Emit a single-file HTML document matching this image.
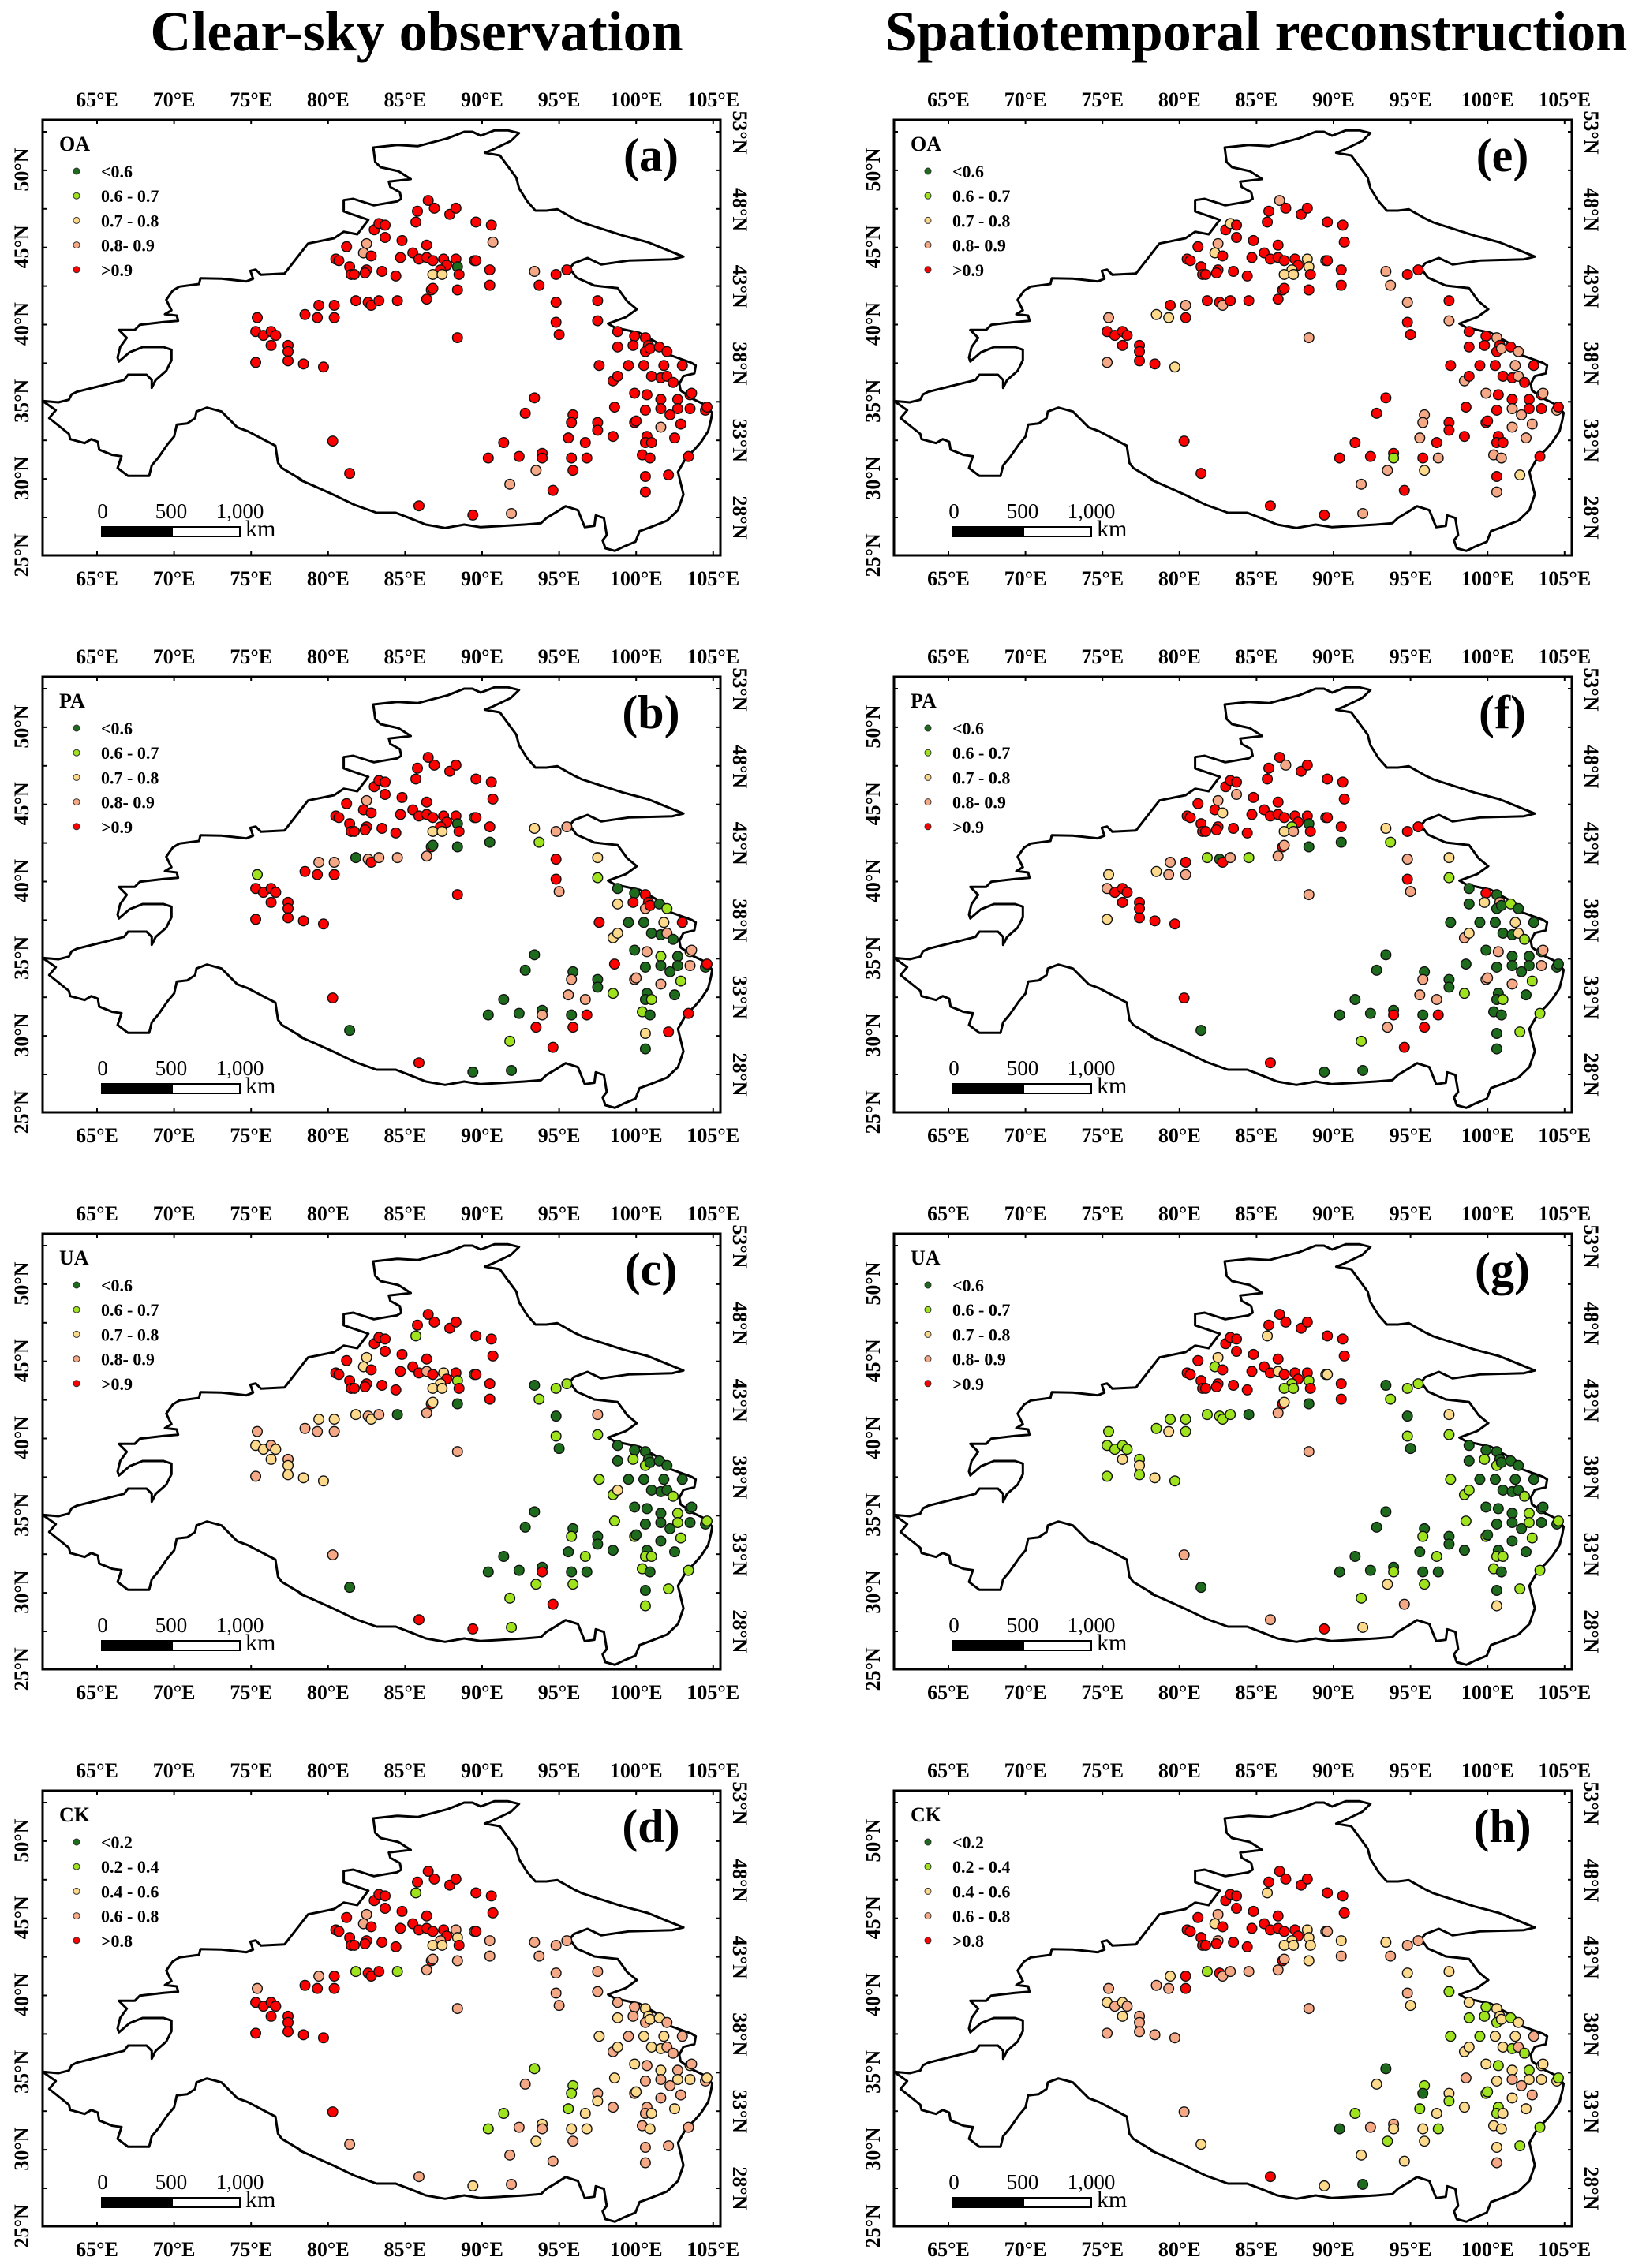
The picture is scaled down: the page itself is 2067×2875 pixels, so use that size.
<!DOCTYPE html>
<html><head><meta charset="utf-8"><style>
html,body{margin:0;padding:0;background:#fff;}
svg{display:block;font-family:"Liberation Serif",serif;}
</style></head><body>
<svg id="fig" width="2067" height="2875" viewBox="0 0 2067 2875" xmlns="http://www.w3.org/2000/svg">
<rect width="2067" height="2875" fill="#fff"/>
<text x="528" y="64" font-size="72" font-weight="bold" text-anchor="middle">Clear-sky observation</text>
<text x="1592" y="64" font-size="72" font-weight="bold" text-anchor="middle">Spatiotemporal reconstruction</text>
</svg>
<script>
// station locations (lon, lat)
const stationLon = [75.4,75.3,75.8,76.3,76.6,76.3,77.4,77.4,75.3,77.4,78.4,79.7,78.5,79.4,79.3,80.4,80.4,81.8,82.6,82.8,83.3,84.5,81.2,80.5,80.7,81.4,81.5,81.7,82.5,82.3,82.8,82.5,82.4,83.5,84.4,83.0,83.3,83.7,83.7,84.8,84.7,85.5,85.9,86.4,86.4,86.8,87.5,87.7,87.3,86.8,87.4,88.3,88.4,88.5,86.7,86.8,86.4,88.4,88.4,85.7,85.8,86.5,86.9,87.9,88.3,89.6,90.6,90.7,89.5,89.6,90.5,90.5,93.4,93.7,94.8,95.5,94.8,94.8,95.0,97.5,97.5,98.8,98.8,97.6,99.9,100.6,99.8,100.8,100.6,100.9,101.5,102.0,99.5,100.5,101.8,103.0,101.0,101.6,102.0,98.5,98.8,102.4,99.9,100.7,101.6,102.7,103.5,103.6,98.6,100.6,101.6,102.7,102.2,103.5,104.5,104.6,99.9,100.0,101.6,102.9,100.7,102.5,100.6,101.0,100.4,100.9,103.4,100.6,102.1,100.6,98.5,97.5,97.5,95.9,95.8,95.6,96.7,96.8,95.8,95.9,93.4,92.8,91.4,90.4,92.4,93.9,93.9,93.5,91.8,94.6,91.9,89.4,85.9,80.3,81.4];
const stationLat = [40.4,39.5,39.25,39.5,39.25,38.6,38.6,38.2,37.5,37.6,37.4,37.2,40.6,41.2,40.4,41.2,40.4,41.5,41.4,41.2,41.5,41.5,45.0,44.2,44.1,43.7,43.2,43.2,45.2,44.6,44.4,43.5,43.3,43.4,43.1,46.1,46.5,46.4,45.6,45.4,44.3,44.6,44.2,45.1,44.3,44.1,44.2,43.8,43.5,43.2,43.2,44.2,43.7,43.2,42.2,42.3,41.6,42.2,39.1,46.6,47.3,48.0,47.5,47.1,47.5,46.6,46.4,45.3,44.1,44.1,43.5,42.5,43.4,42.5,43.2,43.5,41.4,40.1,39.3,41.5,40.2,39.5,38.5,37.3,39.2,39.1,38.6,38.6,38.2,38.4,38.5,38.2,37.3,37.3,37.3,37.3,36.6,36.5,36.6,36.3,36.6,36.2,35.5,35.4,35.1,35.1,35.4,35.5,34.6,34.4,34.5,34.5,34.1,34.5,34.4,34.6,33.6,33.7,33.3,33.5,32.7,32.6,32.3,32.3,31.5,31.3,31.4,30.1,30.2,29.1,32.7,33.6,33.1,34.1,33.6,32.6,32.3,31.3,31.3,30.5,35.2,34.2,32.3,31.3,31.4,31.6,31.3,30.5,29.6,29.2,27.7,27.6,28.2,32.4,30.3];
// class per station (0 lowest ... 4 highest), chunks of 10
const classA = ["4444444444","4444444444","4444444433","4444444444","4444444442","2404444444","4444444344","4434444444","4444444444","4444444444","4444444444","4444444434","4444444444","4444444444","4444444334","34444"];
const classE = ["3444444434","4224234443","4444444432","4444442444","4444444422","2224444434","4344444424","4433443444","3444434443","4344344433","4434444344","3434344433","4344334423","4443334342","4444441334","34444"];
const classB = ["1444444444","4443434034","3344444434","4444444444","4444444442","2404403044","4444444414","4021334432","1024044434","0100240032","2003102340","0003043331","0001104240","1000333404","0000003414","00440"];
const classF = ["2344444424","4423343104","3144444434","2444444434","4444444412","3404433034","4434444414","4021443432","1000402300","1000200023","2103000300","0003003331","0001001010","1000333404","0000004314","00440"];
const classC = ["3223223232","2232323232","3044444422","4444444444","4444342422","2414423031","4444444414","4401110103","1001001010","0000000001","2100010010","0100011001","0011101011","0000101001","0000004114","14430"];
const classG = ["1111121211","2111211111","1044444421","4444444444","4444244411","1414423032","4444444412","4401110102","1001001010","0000000001","1100010010","0100011001","0011101012","0000101001","0000001213","24330"];
const classD = ["3444444444","4443444144","4144444433","4444444444","4444444432","2324433331","4444444424","3333333333","3322323232","2332232233","2323232323","3232323233","3232323333","3321112223","1311323233","32343"];
const classH = ["3232323333","3332344143","3344444432","4344444444","4444444422","2222433232","4444444423","2323332322","1211121212","1212232132","2121212232","3232211123","1212221213","2211012122","0210332122","02432"];
// legend labels
const legendLabels = ["<0.6","0.6 - 0.7","0.7 - 0.8","0.8- 0.9",">0.9"];
const legendLabelsCK = ["<0.2","0.2 - 0.4","0.4 - 0.6","0.6 - 0.8",">0.8"];
const lonTicks = [65,70,75,80,85,90,95,100,105];
const leftLatTicks = [50,45,40,35,30,25];
const rightLatTicks = [53,48,43,38,33,28];
const scaleLabels = ["0","500","1,000"];

const COLORS = ["#1e6b1e","#9fe21e","#fdd98c","#f5a885","#ff0000"];
const NS = "http://www.w3.org/2000/svg";
const svg = document.getElementById("fig");
const FW = 859, FH = 552;
const segW1 = [[0,625],[60,630],[100,620],[110,600],[130,590],[210,570],[250,560],[310,545],[325,525],[395,525],[415,545],[415,575],[430,545],[470,510],[490,470],[490,430],[460,420],[380,420],[330,440],[290,475],[285,460],[295,420],[320,385],[290,355],[350,355],[370,335],[460,325],[515,320],[510,300],[465,295],[490,280],[470,240],[495,205],[520,190],[595,180],[600,158],[680,160],[775,170],[800,160],[790,130],[810,125],[830,145],[920,140]];
const segN = [[30,470],[125,450],[160,425],[210,435],[250,380],[160,348],[160,305],[195,300],[270,325],[355,310],[370,300],[365,275],[330,255],[325,235],[405,225],[360,195],[295,180],[275,160],[268,105],[355,95],[430,100],[540,70],[600,45],[630,45],[660,60],[710,40],[760,40],[800,50],[770,80],[700,115],[675,125],[730,135],[790,220],[800,260],[830,310],[860,345],[900,345],[940,340],[1000,375],[1030,390],[1180,440],[1270,465],[1400,520],[1360,530],[1200,535],[1100,550],[1050,525],[1000,545],[985,565],[1010,600],[1075,630],[1160,640],[1195,690],[1230,720],[1190,750],[1125,775],[1150,790],[1240,810],[1300,845]];
const segS = [[1340,65],[1350,90],[1430,120],[1445,130],[1440,160],[1400,170],[1385,200],[1390,225],[1430,255],[1480,280],[1505,310],[1500,340],[1490,380],[1465,420],[1440,450],[1410,480],[1380,535],[1400,620],[1380,680],[1340,720],[1280,745],[1240,760],[1225,800],[1180,820],[1150,835],[1115,825],[1105,795],[1120,775],[1110,710],[1080,700],[1075,740],[1040,745],[1015,680],[970,665],[940,685],[900,710],[880,730],[820,735],[660,745],[600,735],[530,748],[460,735],[400,710],[350,690],[280,690],[200,660],[130,625],[45,585],[0,565]];
const segW2 = [[985,925],[910,880],[895,860],[885,795],[780,740],[740,725],[680,665],[625,650],[585,665],[580,690],[550,710],[510,715],[500,760],[475,790],[440,840],[415,870],[405,910],[325,910],[285,880],[300,835],[265,830],[215,810],[210,780],[185,770],[160,785],[105,770],[100,750],[25,690],[50,660]];
const outlineRel = [].concat(
  segW1.map(q=>[q[0]/3, q[1]/3+148]),
  segN.map(q=>[q[0]/2.88+326, q[1]/3]),
  segS.map(q=>[q[0]/2.88+326, q[1]/3+268]),
  segW2.map(q=>[q[0]/3, q[1]/3+148])
);

function el(tag, attrs, parent){const e=document.createElementNS(NS,tag);for(const k in attrs)e.setAttribute(k,attrs[k]);(parent||svg).appendChild(e);return e;}

const panels = [
 {id:"a",label:"OA",fx:54,fy:152,cls:classA,leg:legendLabels},
 {id:"b",label:"PA",fx:54,fy:858,cls:classB,leg:legendLabels},
 {id:"c",label:"UA",fx:54,fy:1564,cls:classC,leg:legendLabels},
 {id:"d",label:"CK",fx:54,fy:2270,cls:classD,leg:legendLabelsCK},
 {id:"e",label:"OA",fx:1133,fy:152,cls:classE,leg:legendLabels},
 {id:"f",label:"PA",fx:1133,fy:858,cls:classF,leg:legendLabels},
 {id:"g",label:"UA",fx:1133,fy:1564,cls:classG,leg:legendLabels},
 {id:"h",label:"CK",fx:1133,fy:2270,cls:classH,leg:legendLabelsCK}
];

panels.forEach(p=>{
  const g = el("g",{});
  
  
  const xs = lon => p.fx + 69 + (lon-65)*19.52;
  const ys = lat => p.fy + 63 + (50-lat)*19.55;
  const fr = el("rect",{x:p.fx,y:p.fy,width:FW,height:FH,fill:"none",stroke:"#000","stroke-width":3},g);
  
  
  lonTicks.forEach(l=>{
    const x = xs(l);
    el("line",{x1:x,y1:p.fy,x2:x,y2:p.fy+5,stroke:"#000","stroke-width":2},g);
    el("line",{x1:x,y1:p.fy+FH,x2:x,y2:p.fy+FH-5,stroke:"#000","stroke-width":2},g);
    const t1 = el("text",{x:x,y:p.fy-17,"font-size":26,"font-weight":"bold","text-anchor":"middle"},g);
    t1.textContent = l+"°E";
    
    
    const t2 = el("text",{x:x,y:p.fy+FH+38,"font-size":26,"font-weight":"bold","text-anchor":"middle"},g);
    t2.textContent = l+"°E";
    
    
  });
  for(let k=0;k<12;k++){
    const y = p.fy+15+k*48.9;
    if(y<p.fy+FH-3){
      el("line",{x1:p.fx,y1:y,x2:p.fx+5,y2:y,stroke:"#000","stroke-width":2},g);
      el("line",{x1:p.fx+FW,y1:y,x2:p.fx+FW-5,y2:y,stroke:"#000","stroke-width":2},g);
    }
  }
  leftLatTicks.forEach(l=>{
    const y = ys(l);
    const t = el("text",{x:0,y:0,"font-size":26,"font-weight":"bold","text-anchor":"middle",transform:`translate(${p.fx-18},${y}) rotate(-90)`},g);
    t.textContent = l+"°N";
    
    
  });
  rightLatTicks.forEach(l=>{
    const y = p.fy + 16 + (53-l)*19.52;
    const t = el("text",{x:0,y:0,"font-size":26,"font-weight":"bold","text-anchor":"middle",transform:`translate(${p.fx+FW+16},${y}) rotate(90)`},g);
    t.textContent = l+"°N";
    
    
  });
  const pts = outlineRel.map(q=>[q[0]+p.fx,q[1]+p.fy]);
  const path = el("path",{d:"M"+pts.map(q=>q[0].toFixed(1)+","+q[1].toFixed(1)).join("L")+"Z",fill:"none",stroke:"#000","stroke-width":3,"stroke-linejoin":"round"},g);
  
  
  const cls = p.cls.join("");
  stationLon.forEach((lon,i)=>{
    const c = +(cls[i]||"4");
    const dot = el("circle",{cx:xs(lon),cy:ys(stationLat[i]),r:6.3,fill:COLORS[c],stroke:"#111","stroke-width":1.4},g);
    
    
  });
  const lt = el("text",{x:p.fx+21,y:p.fy+39,"font-size":26,"font-weight":"bold"},g);
  lt.textContent = p.label;
  
  
  p.leg.forEach((s,k)=>{
    const d = el("circle",{cx:p.fx+43,cy:p.fy+65+k*31.2,r:4,fill:COLORS[k],stroke:"#333","stroke-width":1},g);
    
    
    const t = el("text",{x:p.fx+74,y:p.fy+73+k*31.2,"font-size":22,"font-weight":"bold"},g);
    t.textContent = s;
    
    
  });
  const pl = el("text",{x:p.fx+771,y:p.fy+65,"font-size":60,"font-weight":"bold","text-anchor":"middle"},g);
  pl.textContent = "("+p.id+")";
  
  
  const sb = el("g",{},g);
  
  
  el("rect",{x:p.fx+75,y:p.fy+516,width:89,height:12,fill:"#000",stroke:"#000","stroke-width":2},sb);
  el("rect",{x:p.fx+164,y:p.fy+516,width:86,height:12,fill:"#fff",stroke:"#000","stroke-width":2},sb);
  scaleLabels.forEach((s,k)=>{
    const t = el("text",{x:p.fx+76+k*87,y:p.fy+505,"font-size":27,"text-anchor":"middle"},sb);
    t.textContent = s;
  });
  const km = el("text",{x:p.fx+257,y:p.fy+528,"font-size":30},sb);
  km.textContent = "km";
});
</script>
</body></html>
